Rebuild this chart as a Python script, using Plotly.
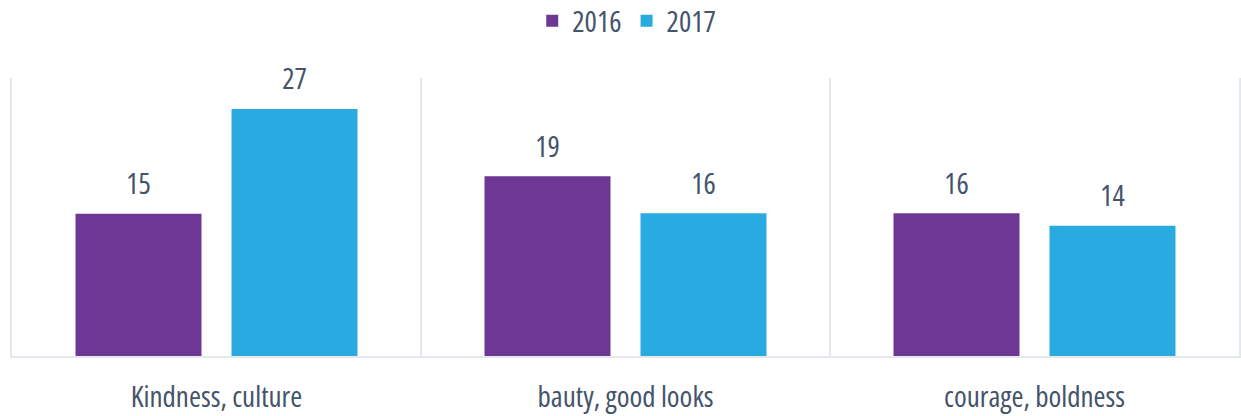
import plotly.graph_objects as go

categories = ["Kindness, culture", "bauty, good looks", "courage, boldness"]
series_names = ["2016", "2017"]
values_2016 = [15.35, 19.39, 15.40]
values_2017 = [26.66, 15.40, 14.06]
labels_2016 = ["15", "19", "16"]
labels_2017 = ["27", "16", "14"]

colors = ["#6C3893", "#29ABE2"]
text_color = "#44546A"
grid_color = "#E4E7ED"
font_family = "Open Sans, sans-serif"
fsize = 29


def cond(s):
    return f"<span style='font-stretch:condensed'>{s}</span>"


fig = go.Figure()
for name, vals, col in zip(series_names, [values_2016, values_2017], colors):
    fig.add_trace(go.Bar(
        x=categories, y=vals, name=cond(name),
        marker=dict(color=col, line=dict(width=0)),
        hoverinfo="skip",
    ))
for name, vals, labs in zip(series_names, [values_2016, values_2017], [labels_2016, labels_2017]):
    fig.add_trace(go.Scatter(
        x=categories, y=vals, text=[cond(t) for t in labs], mode="markers+text",
        textposition="top center",
        marker=dict(size=18, color="rgba(0,0,0,0)"),
        textfont=dict(size=fsize, color=text_color, family=font_family),
        showlegend=False, hoverinfo="skip", cliponaxis=False,
    ))

fig.update_layout(
    width=1241, height=416,
    margin=dict(l=12, r=2, t=78, b=60, autoexpand=False),
    paper_bgcolor="white", plot_bgcolor="white",
    barmode="group", bargap=0.2372, bargroupgap=0.1923,
    scattermode="group", scattergap=0.2372,
    font=dict(family=font_family, size=fsize, color=text_color),
    showlegend=True,
    legend=dict(orientation="h", x=0.501, xanchor="center", y=1.205, yanchor="middle",
                font=dict(size=fsize, color=text_color, family=font_family),
                traceorder="normal", itemwidth=30),
    xaxis=dict(type="category", tickson="boundaries", showgrid=True, gridcolor=grid_color,
               gridwidth=2, showline=True, linecolor=grid_color, linewidth=2,
               ticks="", ticklabelstandoff=14, zeroline=False,
               tickmode="array", tickvals=categories, ticktext=[cond(c) for c in categories],
               tickfont=dict(size=fsize, color=text_color, family=font_family)),
    yaxis=dict(range=[0, 30], showgrid=False, zeroline=False, showticklabels=False,
               showline=True, mirror=True, linecolor=grid_color, linewidth=2, ticks=""),
)

fig.write_html("out.html")
